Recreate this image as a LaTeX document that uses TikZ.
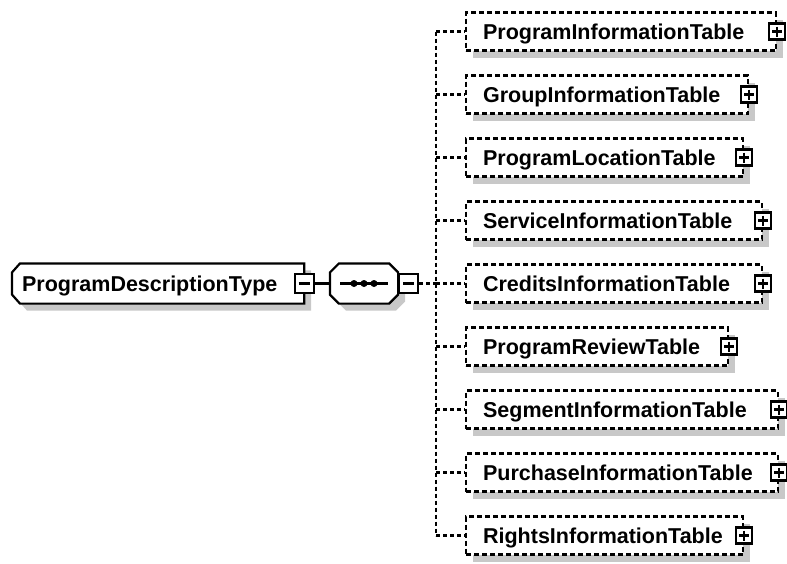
\documentclass[tikz,border=0pt]{standalone}
\usepackage{fontspec}
\setmainfont{Liberation Sans}
\usetikzlibrary{positioning, shadows, backgrounds}
\definecolor{shade}{RGB}{200,200,200}

\begin{document}
\begin{tikzpicture}[
        x = 1pt, y = -1pt,
        line width = 2.2pt,
        font = \fontsize{21.5}{24}\selectfont\bfseries,
        shade box/.style = {drop shadow = {shadow xshift = 7pt, shadow yshift = -7pt, fill = shade, opacity = 1}},
        complex/.style = {minimum height = 38pt, inner xsep = 9pt, inner ysep = 0pt,
            text height = 15.5pt, text depth = 0pt, align = left},
        outline/.style = {draw, line width = 2.2pt, fill = white, shade box},
        element/.style = {draw, dash pattern = on 5pt off 3pt, fill = white, shade box,
            anchor = west, minimum height = 38pt, inner xsep = 17pt, inner ysep = 0pt,
            text height = 15.5pt, text depth = 0pt, align = left},
        link/.style = {dash pattern = on 4pt off 3pt},
        minus/.style = {draw, solid, fill = white, minimum size = 19pt, inner sep = 0pt,
            path picture = {\draw ([xshift = 4pt]path picture bounding box.west)
                -- ([xshift = -4pt]path picture bounding box.east);}},
        plus/.style = {draw, solid, fill = white, minimum size = 16pt, inner sep = 0pt,
            path picture = {\draw ([xshift = 3pt]path picture bounding box.west)
                -- ([xshift = -3pt]path picture bounding box.east)
                ([yshift = -3pt]path picture bounding box.north)
                -- ([yshift = 3pt]path picture bounding box.south);}}
    ]
      \useasboundingbox (0,0) rectangle (787,563);

      % root type and sequence
      \node[complex, text width = 272pt, anchor = west] (pdt) at (12,283.5) {ProgramDescriptionType};
      \node[complex, minimum width = 66pt] (seq) at (364,283.5) {};

      \begin{scope}[on background layer]
        \path[outline] ([xshift = 8pt]pdt.north west) -- (pdt.north east) -- (pdt.south east)
            -- ([xshift = 8pt]pdt.south west) -- ([yshift = 9pt]pdt.south west)
            -- ([yshift = -9pt]pdt.north west) -- cycle;
        \path[outline] ([xshift = 9pt]seq.north west) -- ([xshift = -9pt]seq.north east)
            -- ([yshift = -9pt]seq.north east) -- ([yshift = 9pt]seq.south east)
            -- ([xshift = -9pt]seq.south east) -- ([xshift = 9pt]seq.south west)
            -- ([yshift = 9pt]seq.south west) -- ([yshift = -9pt]seq.north west) -- cycle;
      \end{scope}

      \node[minus] (pdtT) at (pdt.east) {};
      \node[minus, anchor = west] (seqT) at (seq.east) {};
      \draw ([xshift = -24pt]seq.center) -- ([xshift = 24pt]seq.center);
      \foreach \dx in {-10,0,10}
        \fill ([xshift = \dx pt]seq.center) circle (3.5pt);

      % child tables
      \node[element, text width = 276pt] (pit) at (465,31.5) {ProgramInformationTable};
      \node[element, text width = 248pt] (git) at (465,94.5) {GroupInformationTable};
      \node[element, text width = 243pt] (plt) at (465,157.5) {ProgramLocationTable};
      \node[element, text width = 262pt] (sit) at (465,220.5) {ServiceInformationTable};
      \node[element, text width = 262pt] (cit) at (465,283.5) {CreditsInformationTable};
      \node[element, text width = 228pt] (prt) at (465,346.5) {ProgramReviewTable};
      \node[element, text width = 278pt] (segit) at (465,409.5) {SegmentInformationTable};
      \node[element, text width = 278pt] (purit) at (465,472.5) {PurchaseInformationTable};
      \node[element, text width = 243pt] (rit) at (465,535.5) {RightsInformationTable};

      \foreach \n in {pit, git, plt, sit, cit, prt, segit, purit, rit}
        \node[plus] (\n T) at (\n.east) {};

      % connectors
      \coordinate (spine) at (436,283.5);
      \draw (pdtT) -- (seq);
      \draw[link] (seqT) -- (spine);
      \draw[link] (pit -| spine) -- (rit -| spine);
      \foreach \n in {pit, git, plt, sit, cit, prt, segit, purit, rit}
        \draw[link] (\n -| spine) -- (\n);

    \end{tikzpicture}
\end{document}
